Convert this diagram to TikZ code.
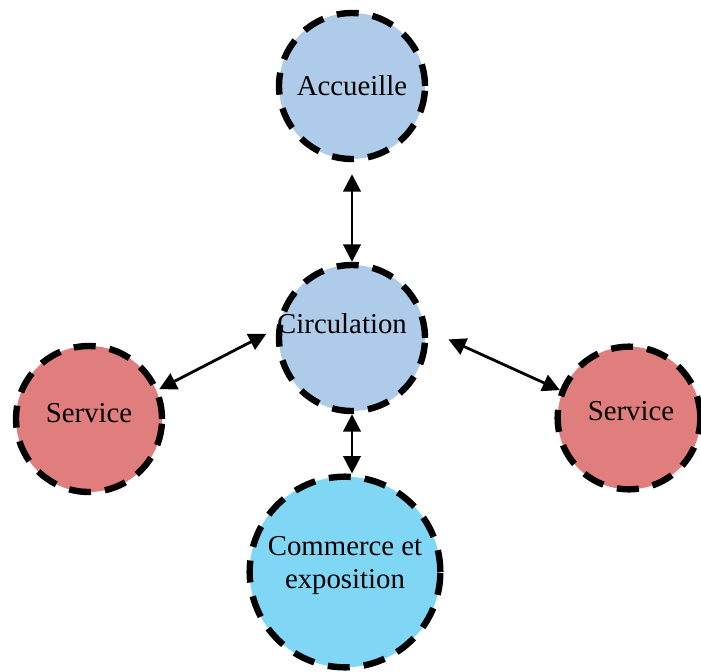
\documentclass[tikz,border=0pt]{standalone}
\usepackage{fontspec}
\setmainfont{Liberation Serif}
\usepackage{xcolor}
\usetikzlibrary{arrows.meta}
\definecolor{zoneblue}{RGB}{174,203,234}
\definecolor{zonered}{RGB}{224,125,125}
\definecolor{zonecyan}{RGB}{127,214,245}
\def\zonesize{109.5pt}

\begin{document}
\begin{tikzpicture}[x=0.75pt, y=-0.75pt,
		zone/.style={circle, draw=black, line width=4.8pt,
			dash pattern=on 16.5pt off 10.5pt, inner sep=0pt,
			minimum size=\zonesize, align=center,
			font=\fontsize{21.6}{25}\selectfont},
		link/.style={{Triangle[length=13pt, width=13pt]}-{Triangle[length=13pt, width=13pt]}, line width=2.1pt}]
		\useasboundingbox (0,0) rectangle (701,672);
		\node[zone, fill=zoneblue] (acc) at (352,86) {Accueille};
		\node[zone, fill=zoneblue, label={[xshift=-7.5pt, yshift=11pt, font=\fontsize{21.6}{25}\selectfont]center:Circulation}] (circ) at (352,338) {};
		\node[zone, fill=zonered, label={[yshift=4.5pt, font=\fontsize{21.6}{25}\selectfont]center:Service}] (svcl) at (89,419) {};
		\node[zone, fill=zonered, minimum size=107pt, label={[xshift=1.5pt, yshift=5pt, font=\fontsize{21.6}{25}\selectfont]center:Service}] (svcr) at (629,418) {};
		\node[zone, fill=zonecyan, minimum size=143pt, label={[yshift=5pt, align=center, font=\fontsize{21.6}{25}\selectfont]center:Commerce et\\exposition}] (com) at (345,572) {};
		% liaisons
		\draw[link, shorten <=9pt] (acc.south) -- (circ.north);
		\draw[link, shorten >=8.5pt] (svcl.23.6) -- (circ.173);
		\draw[link, shorten <=17pt] (circ.6.6) -- (svcr.158);
		\draw[link] (circ.south) -- (circ.south |- com.north);
	\end{tikzpicture}
\end{document}
